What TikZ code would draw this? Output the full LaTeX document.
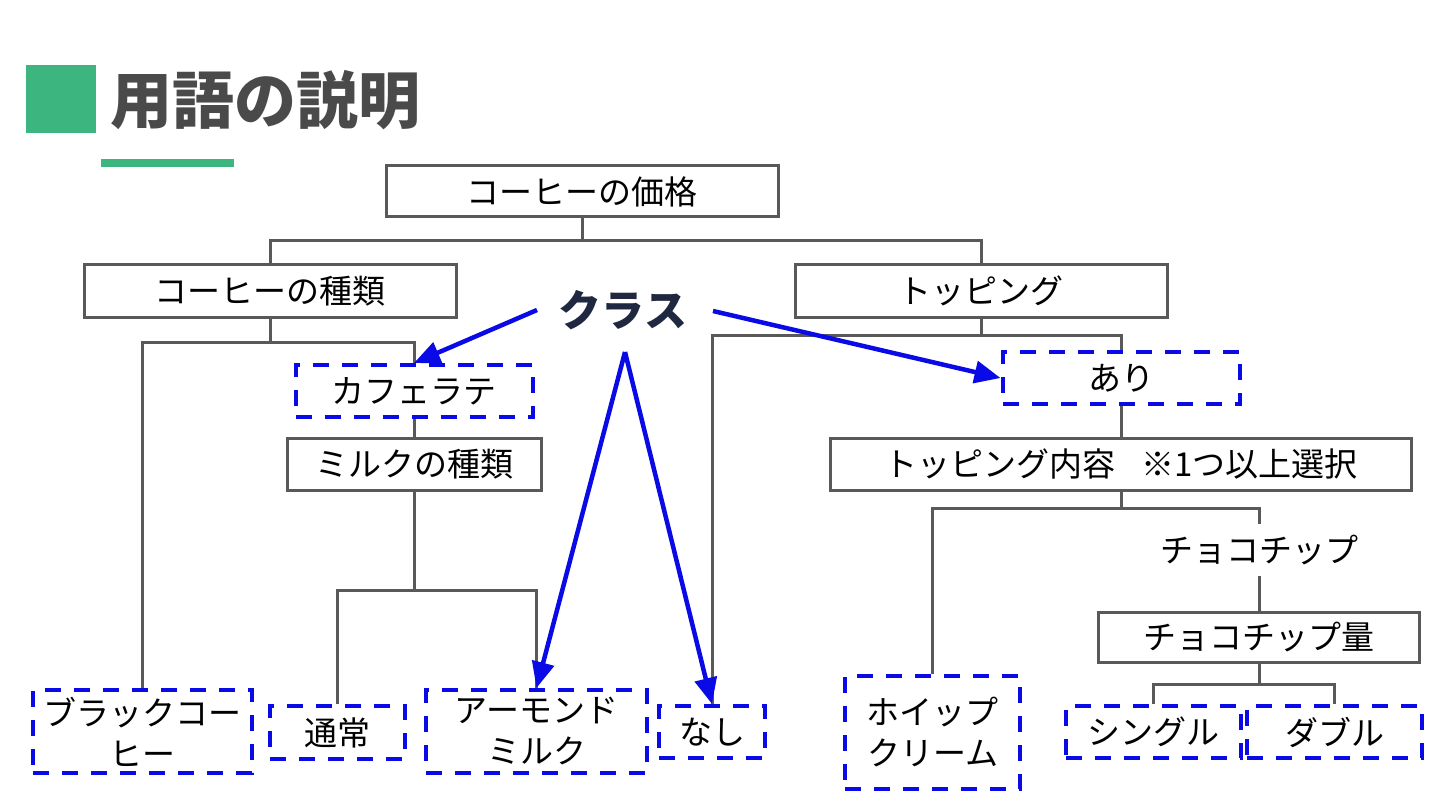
\documentclass[tikz,border=0pt]{standalone}
\usepackage{fontspec}
\newfontfamily\cjk{Noto Sans CJK JP}
\usetikzlibrary{arrows.meta}
\definecolor{ttlgreen}{HTML}{3DB57E}
\definecolor{ttlgray}{HTML}{4A4A4A}
\definecolor{boxgray}{HTML}{595959}
\definecolor{dashblue}{HTML}{0A0AE6}
\definecolor{navy}{HTML}{1F2840}
\tikzset{
  solidbox/.style={draw=boxgray, line width=3pt, fill=white, inner sep=0pt, align=center, font=\cjk\fontsize{33}{41}\selectfont},
  dashbox/.style={draw=dashblue, line width=4pt, dash pattern=on 16pt off 13pt, fill=white, inner sep=0pt, align=center, font=\cjk\fontsize{33}{41}\selectfont},
  plain/.style={inner sep=0pt, align=center, font=\cjk\fontsize{33}{41}\selectfont},
  conn/.style={draw=boxgray, line width=3pt},
  bluearrow/.style={draw=dashblue, line width=4.5pt, -{Triangle[length=26pt,width=22pt]}}
}
\begin{document}
\begin{tikzpicture}[x=1pt,y=-1pt]
\useasboundingbox[fill=white] (0,0) rectangle (1440,810);
% title
\fill[ttlgreen] (26,65) rectangle (96,133);
\node[anchor=west, text=ttlgray, inner sep=0pt, font=\cjk\bfseries\fontsize{62}{72}\selectfont] (title) at (110,100) {用語の説明};
\fill[ttlgreen] (101,159) rectangle (234,167);

\coordinate (j1) at (582,241);
\coordinate (j2) at (270,342);
\coordinate (j3) at (414,590);
\coordinate (j4) at (981,335);
\coordinate (j5) at (1121,508);
\coordinate (j6) at (1259,684);

% nodes
\node[solidbox, minimum width=392pt, minimum height=51pt] (price) at (582,191.5) {コーヒーの価格};
\node[solidbox, minimum width=372pt, minimum height=52pt] (kind) at (270,291) {コーヒーの種類};
\node[solidbox, minimum width=372pt, minimum height=52pt] (top) at (981,291) {トッピング};
\node[dashbox, minimum width=237pt, minimum height=52pt] (latte) at (414,391) {カフェラテ};
\node[solidbox, minimum width=254pt, minimum height=52pt] (milk) at (414,464) {ミルクの種類};
\node[dashbox, minimum width=237pt, minimum height=52pt] (ari) at (1121,378) {あり};
\node[solidbox, minimum width=581pt, minimum height=52pt] (cont) at (1121,464) {トッピング内容\hspace{0.8em}※1つ以上選択};
\node[plain, minimum width=180pt, minimum height=52pt] (choco) at (1259,550) {チョコチップ};
\node[solidbox, minimum width=321pt, minimum height=50pt] (amount) at (1259,637) {チョコチップ量};
\node[dashbox, minimum width=175pt, minimum height=113pt] (whip) at (932.5,732.5) {ホイップ\\クリーム};
\node[dashbox, minimum width=175pt, minimum height=52pt] (single) at (1153.5,732) {シングル};
\node[dashbox, minimum width=175pt, minimum height=52pt] (double) at (1334.5,732) {ダブル};
\node[dashbox, minimum width=219pt, minimum height=83pt] (black) at (142.5,731.5) {ブラックコー\\ヒー};
\node[dashbox, minimum width=135pt, minimum height=53pt] (normal) at (337.5,732.5) {通常};
\node[dashbox, minimum width=221pt, minimum height=83pt] (almond) at (536.5,731.5) {アーモンド\\ミルク};
\node[dashbox, minimum width=106pt, minimum height=52pt] (nashi) at (712,732) {なし};

\node[text=navy, inner sep=0pt, font=\cjk\bfseries\fontsize{43}{50}\selectfont] (cls) at (623,310) {クラス};

% tree connectors
\draw[conn] (price.south) -- (j1);
\draw[conn] (kind.north) |- (j1) -| (top.north);
\draw[conn] (kind.south) -- (j2);
\draw[conn] (black.north) |- (j2) -| (latte.north);
\draw[conn] (latte.south) -- (milk.north);
\draw[conn] (milk.south) -- (j3);
\draw[conn] (normal.north) |- (j3) -| (almond.north);
\draw[conn] (top.south) -- (j4);
\draw[conn] (nashi.north) |- (j4) -| (ari.north);
\draw[conn] (ari.south) -- (cont.north);
\draw[conn] (cont.south) -- (j5);
\draw[conn] (whip.north) |- (j5) -| (choco.north);
\draw[conn] (choco.south) -- (amount.north);
\draw[conn] (amount.south) -- (j6);
\draw[conn] (single.north) |- (j6) -| (double.north);

% blue arrows
\coordinate (a1) at (537,310);
\coordinate (a2) at (713,311);
\coordinate (a3) at (625,352);
\draw[bluearrow] (a1) -- (latte.north);
\draw[bluearrow] (a2) -- (ari.west);
\draw[bluearrow] (a3) -- (almond.north);
\draw[bluearrow] (a3) -- (nashi.north);
\end{tikzpicture}
\end{document}
